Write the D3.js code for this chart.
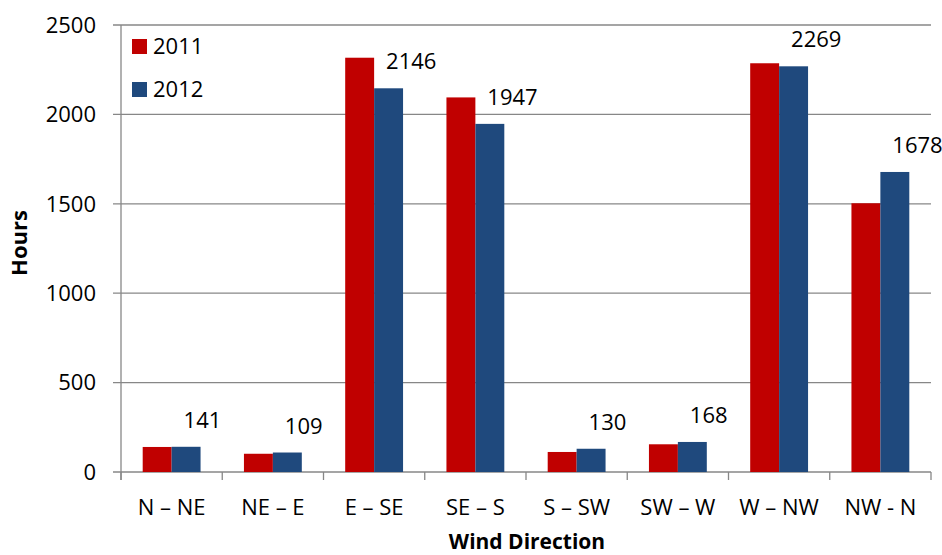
<!DOCTYPE html>
<html>
<head>
<meta charset="utf-8">
<script src="https://cdn.jsdelivr.net/npm/d3@7"></script>
<style>
  html, body { margin: 0; padding: 0; background: #fff; }
  text { font-family: "Open Sans", "Liberation Sans", sans-serif; fill: #000; }
</style>
</head>
<body>
<svg id="chart" width="942" height="555"></svg>
<script>
// Wind direction hours per sector
const directions = ["N \u2013 NE", "NE \u2013 E", "E \u2013 SE", "SE \u2013 S", "S \u2013 SW", "SW \u2013 W", "W \u2013 NW", "NW - N"];
const hours2011 = [140, 102, 2317, 2095, 112, 155, 2286, 1503];
const hours2012 = [141, 109, 2146, 1947, 130, 168, 2269, 1678];
const seriesNames = ["2011", "2012"];
const seriesColors = ["#C00000", "#1F497D"];
const yTicks = [0, 500, 1000, 1500, 2000, 2500];

const svg = d3.select("#chart");
const plotLeft = 121, plotRight = 931, plotTop = 25, plotBottom = 472;

// one band per direction; two bars inside, gap of 1.5 bar widths between groups
const x = d3.scaleBand().domain(directions).range([plotLeft, plotRight]).padding(0);
const bandW = x.bandwidth();
const xs = d3.scaleBand().domain(seriesNames)
  .range([bandW * 0.75 / 3.5, bandW * (1 - 0.75 / 3.5)]).padding(0);
const barW = xs.bandwidth();

const y = d3.scaleLinear().domain([0, 2500]).range([plotBottom, plotTop]);
const gridColor = "#878787";

// horizontal gridlines with outward ticks on the value axis
svg.append("g").selectAll("line").data(yTicks).join("line")
  .attr("x1", plotLeft - 8).attr("x2", plotRight)
  .attr("y1", d => y(d)).attr("y2", d => y(d))
  .attr("stroke", gridColor).attr("stroke-width", 1.3);

// y axis labels
svg.append("g").selectAll("text").data(yTicks).join("text")
  .attr("x", 96).attr("y", d => y(d)).attr("dy", "0.35em")
  .attr("text-anchor", "end").attr("font-size", 22)
  .text(d => d);

// bars
const series = [hours2011, hours2012];
series.forEach((vals, si) => {
  svg.append("g").selectAll("rect").data(directions).join("rect")
    .attr("x", d => x(d) + xs(seriesNames[si]))
    .attr("width", barW)
    .attr("y", (d, i) => y(vals[i]))
    .attr("height", (d, i) => y(0) - y(vals[i]))
    .attr("fill", seriesColors[si]);
});

// value labels for 2012
svg.append("g").selectAll("text").data(directions).join("text")
  .attr("x", d => x(d) + xs("2012") + barW - 17)
  .attr("y", (d, i) => y(hours2012[i]) - 19)
  .attr("font-size", 22)
  .text((d, i) => hours2012[i]);

// vertical axis line
svg.append("line").attr("x1", plotLeft).attr("x2", plotLeft).attr("y1", plotTop).attr("y2", plotBottom + 8)
  .attr("stroke", gridColor).attr("stroke-width", 1.3);

// category separators below the baseline
const seps = directions.map(d => x(d)).concat([plotRight]);
svg.append("g").selectAll("line").data(seps).join("line")
  .attr("x1", d => d).attr("x2", d => d).attr("y1", plotBottom).attr("y2", plotBottom + 8)
  .attr("stroke", gridColor).attr("stroke-width", 1.3);

// category labels
svg.append("g").selectAll("text").data(directions).join("text")
  .attr("x", d => x(d) + bandW / 2).attr("y", 515)
  .attr("text-anchor", "middle").attr("font-size", 22)
  .text(d => d);

// axis titles
svg.append("text").attr("x", 527).attr("y", 549)
  .attr("text-anchor", "middle").attr("font-size", 21).attr("font-weight", "bold")
  .text("Wind Direction");
svg.append("text").attr("transform", "translate(27,243) rotate(-90)")
  .attr("text-anchor", "middle").attr("font-size", 22).attr("font-weight", "bold")
  .text("Hours");

// legend
const legend = svg.append("g").selectAll("g").data(seriesNames).join("g")
  .attr("transform", (d, i) => `translate(132,${39 + i * 43})`);
legend.append("rect").attr("width", 15).attr("height", 15).attr("fill", (d, i) => seriesColors[i]);
legend.append("text").attr("x", 21).attr("y", 15).attr("font-size", 22).text(d => d);
</script>
</body>
</html>
